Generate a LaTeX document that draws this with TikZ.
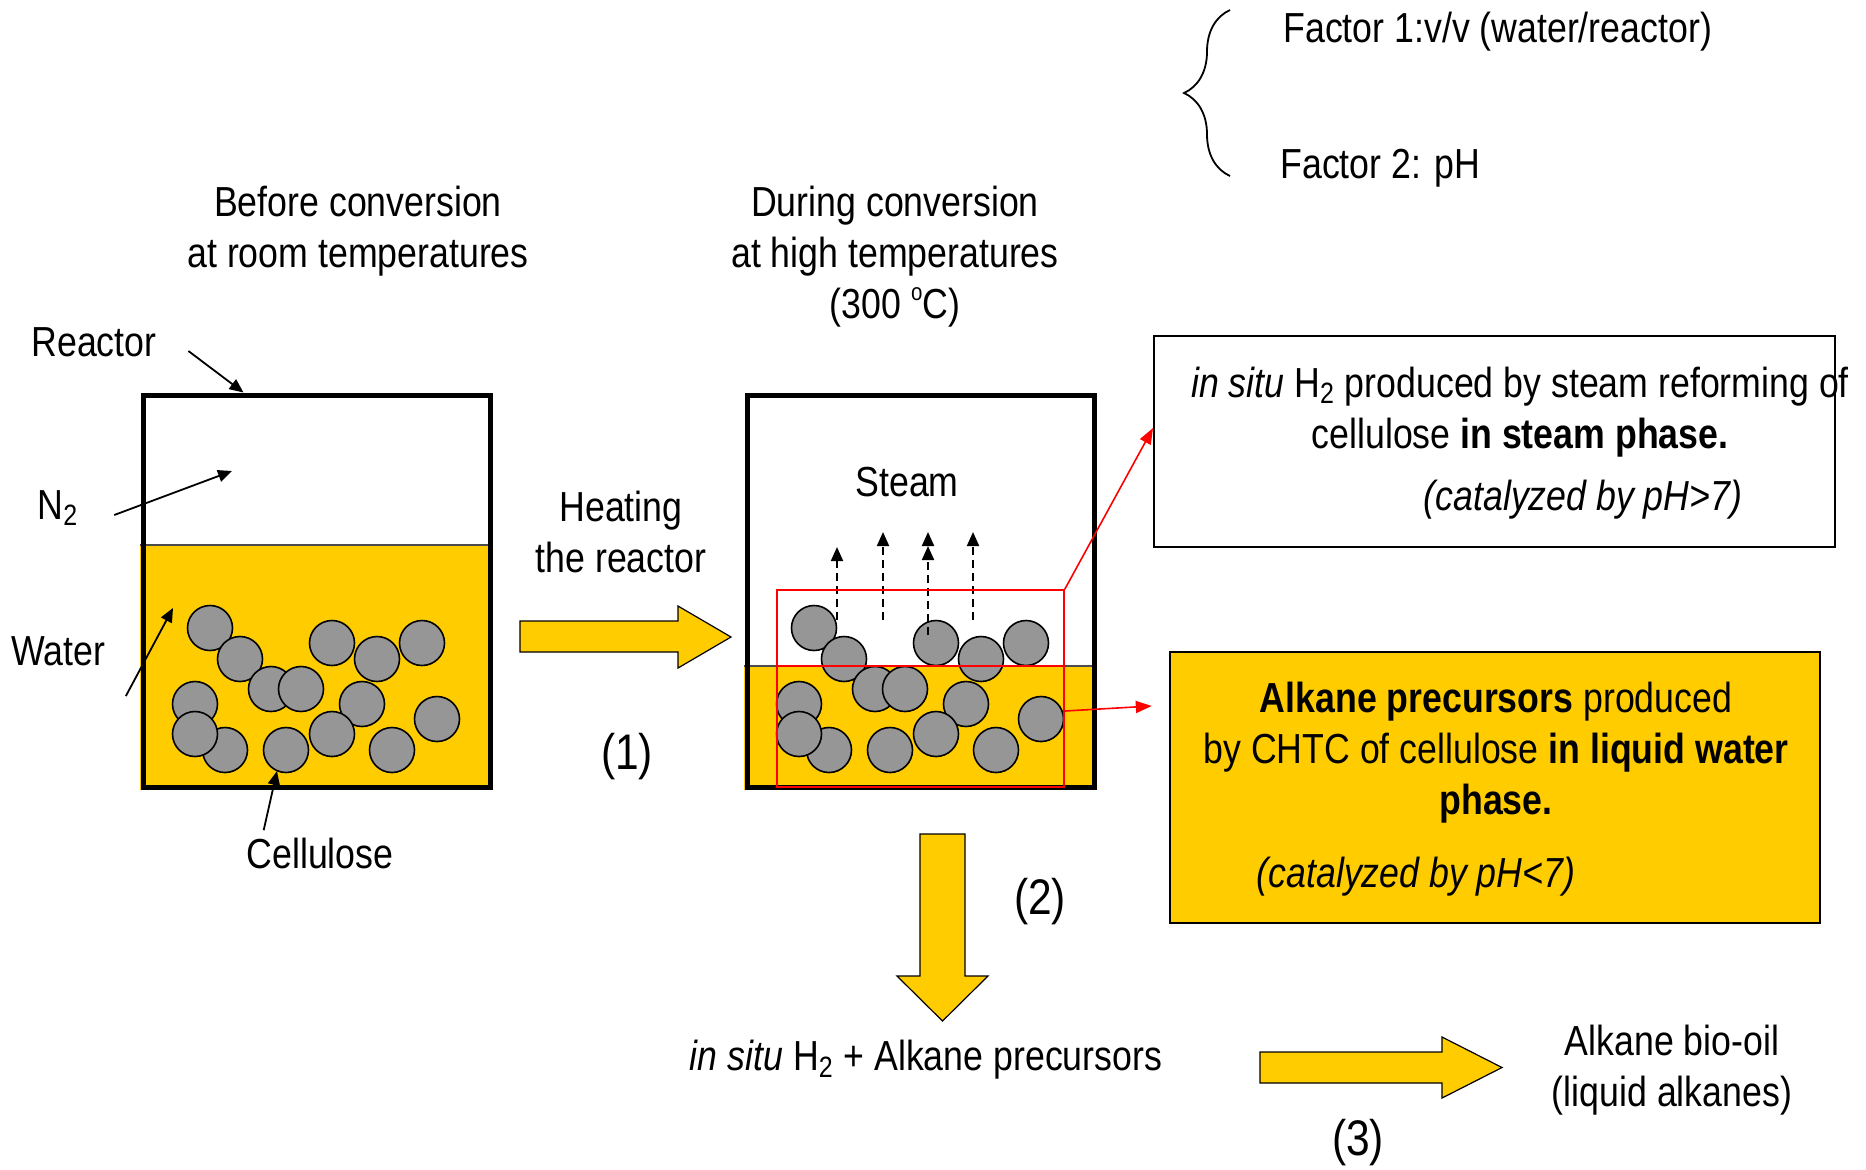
\documentclass[tikz,border=0pt]{standalone}
\usepackage{fontspec}
\setmainfont[FakeStretch=0.85]{Liberation Sans}
\usetikzlibrary{arrows.meta,positioning,fit,decorations.pathreplacing}
\definecolor{gold}{RGB}{255,204,0}
\definecolor{pelletgrey}{RGB}{150,150,150}

\begin{document}
\begin{tikzpicture}[
    x=0.5pt, y=-0.5pt,
    font=\fontsize{21}{25.5}\selectfont,
    txt/.style={align=center, inner sep=0pt},
    steplbl/.style={txt, font=\fontsize{25}{30}\selectfont},
    vessel/.style={draw, line width=2.5pt, inner sep=0pt},
    pellet/.style={draw, line width=0.8pt, fill=pelletgrey},
    zone/.style={draw=red, line width=0.8pt, inner sep=0pt},
    infobox/.style={draw, line width=1pt, inner sep=0pt},
    redarrow/.style={-{Triangle[length=8pt,width=6pt]}, red, line width=0.8pt},
    lblarrow/.style={-{Triangle[length=7pt,width=6pt]}, line width=0.9pt},
    steamarrow/.style={-{Triangle[length=7pt,width=6pt]}, dash pattern=on 4pt off 2.5pt, line width=1pt},
    bigarrow/.style={draw, line width=0.6pt, fill=gold, line join=miter},
    surface/.style={black!70, line width=0.7pt}
]
\useasboundingbox (0,0) rectangle (1866,1169);

% water in both reactors
\fill[gold] (140,545) rectangle (493,790);
\draw[surface] (140,545) -- (493,545);
\fill[gold] (744,666) rectangle (1097,790);
\draw[surface] (744,666) -- (1097,666);

% cellulose pellets, same heap in both reactors
\foreach \dx in {0,604}
  \foreach \cx/\cy in {210/628, 240/659, 271/689, 301/689, 332/643, 377/659, 422/643,
                       195/704, 225/750, 195/734, 286/750, 362/704, 332/734, 392/750, 437/719}
    \draw[pellet] (\cx+\dx,\cy) circle[radius=11.25pt];

% reactor walls
\node[vessel, fit={(143,395) (490,787)}] (reactorA) {};
\node[vessel, fit={(747,395) (1094,787)}] (reactorB) {};

% steam rising
\draw[steamarrow] (837,620) -- (837,547);
\draw[steamarrow] (883,620) -- (883,532);
\draw[steamarrow, -{Triangle[length=7pt,width=6pt] Triangle[length=7pt,width=6pt]}] (928,635) -- (928,532);
\draw[steamarrow] (973,620) -- (973,532);

% steam and liquid zones
\node[zone, fit={(777,590) (1064,787)}] (steamzone) {};
\node[zone, fit={(777,666) (1064,787)}] (waterzone) {};

% result boxes
\node[infobox, fit={(1154,336) (1835,547)}] (steambox) {};
\node[infobox, fill=gold, line width=1.2pt, fit={(1170,652) (1820,923)}] (alkbox) {};

\draw[redarrow] (steamzone.north east) -- ([yshift=6.75pt]steambox.west);
\draw[redarrow] ([yshift=7.75pt]waterzone.east) -- ([shift={(-8.5pt,40.75pt)}]alkbox.west);

% process steps
\draw[bigarrow] (520,621) -- (678,621) -- (678,606) -- (731,637) -- (678,668) -- (678,652) -- (520,652) -- cycle;
\draw[bigarrow] (920,834) -- (965,834) -- (965,976) -- (988,976) -- (942.5,1021) -- (897,976) -- (920,976) -- cycle;
\draw[bigarrow] (1260,1052) -- (1442,1052) -- (1442,1037) -- (1502,1067.5) -- (1442,1098) -- (1442,1083) -- (1260,1083) -- cycle;

% factors
\draw[line width=0.9pt, decorate, decoration={brace, amplitude=23pt}] (1230,176) -- (1230,10);
\node[txt, anchor=west] (factorA) at (1283,32) {Factor 1:v/v (water/reactor)};
\node[txt, anchor=west] (factorB) at (1280,168) {Factor 2: pH};

% headings
\node[txt] (before) at (358,231) {Before conversion\\at room temperatures};
\node[txt] (during) at (895,257) {During conversion\\at high temperatures\\(300 {\fontsize{12}{14}\selectfont\raisebox{9pt}{o}}C)};

% labels
\node[txt] (reactorlbl) at (94,342) {Reactor};
\node[txt] (nlbl) at (58,508) {N\textsubscript{2}};
\node[txt] (waterlbl) at (58,651) {Water};
\node[txt] (cellulbl) at (320,853) {Cellulose};
\node[txt] (steamlbl) at (907,482) {Steam};
\node[txt] (heating) at (621,532) {Heating\\the reactor};

\coordinate (headspace) at (232,471);
\coordinate (waterpt) at (173,608);
\coordinate (pelletpt) at (277,771);
\draw[lblarrow] ([shift={(15.75pt,-4.5pt)}]reactorlbl.east) -- ([xshift=51.5pt]reactorA.north west);
\draw[lblarrow] ([shift={(17.75pt,-3.5pt)}]nlbl.east) -- (headspace);
\draw[lblarrow] ([shift={(10.25pt,-15pt)}]waterlbl.south east) -- (waterpt);
\draw[lblarrow] ([shift={(8.75pt,3.5pt)}]cellulbl.north west) -- (pelletpt);

\node[steplbl] (stepA) at (627,757) {(1)};
\node[steplbl] (stepB) at (1040,902) {(2)};
\node[steplbl] (stepC) at (1358,1143) {(3)};

% box texts
\node[txt] (steamtxt) at (1520,412) {\textit{in situ} H\textsubscript{2} produced by steam reforming of\\cellulose \textbf{in steam phase.}};
\node[txt] (steamcat) at (1583,500) {\textit{(catalyzed by pH>7)}};
\node[txt] (alktxt) at (1496,753) {\textbf{Alkane precursors} produced\\by CHTC of cellulose \textbf{in liquid water}\\\textbf{phase.}};
\node[txt] (alkcat) at (1416,877) {\textit{(catalyzed by pH<7)}};

% products
\node[txt] (mixture) at (926,1060) {\textit{in situ} H\textsubscript{2} + Alkane precursors};
\node[txt] (biooil) at (1672,1070) {Alkane bio-oil\\(liquid alkanes)};

\end{tikzpicture}
\end{document}
